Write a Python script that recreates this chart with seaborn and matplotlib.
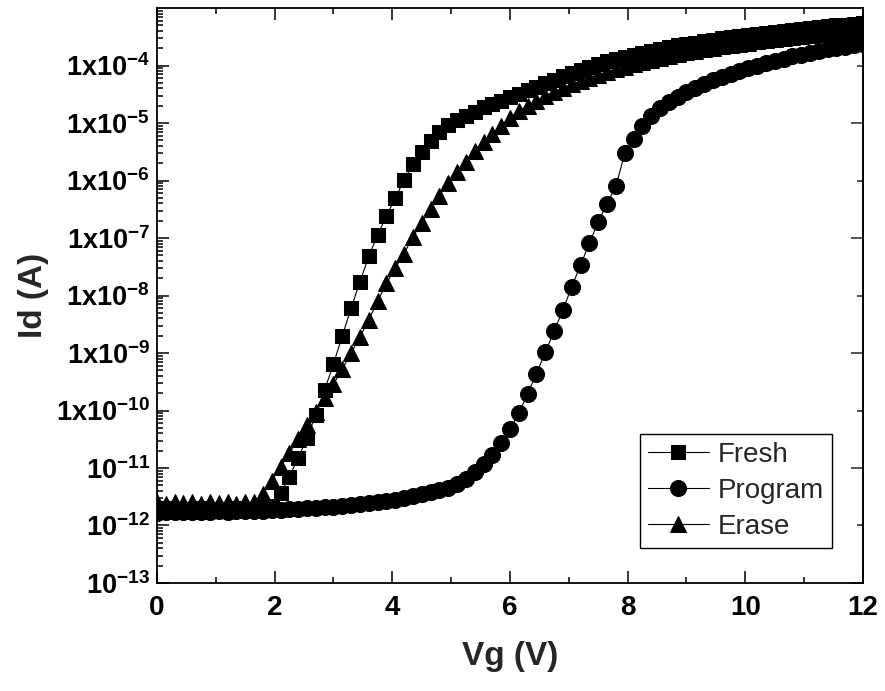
import numpy as np
import pandas as pd
import matplotlib
matplotlib.use("Agg")
import matplotlib.pyplot as plt
import seaborn as sns
from matplotlib.ticker import FixedLocator, LogLocator, MultipleLocator, NullFormatter

# Gate sweep (V), step 0.15 V
vg = [0.00, 0.15, 0.30, 0.45, 0.60, 0.75, 0.90, 1.05, 1.20, 1.35,
      1.50, 1.65, 1.80, 1.95, 2.10, 2.25, 2.40, 2.55, 2.70, 2.85,
      3.00, 3.15, 3.30, 3.45, 3.60, 3.75, 3.90, 4.05, 4.20, 4.35,
      4.50, 4.65, 4.80, 4.95, 5.10, 5.25, 5.40, 5.55, 5.70, 5.85,
      6.00, 6.15, 6.30, 6.45, 6.60, 6.75, 6.90, 7.05, 7.20, 7.35,
      7.50, 7.65, 7.80, 7.95, 8.10, 8.25, 8.40, 8.55, 8.70, 8.85,
      9.00, 9.15, 9.30, 9.45, 9.60, 9.75, 9.90, 10.05, 10.20, 10.35,
      10.50, 10.65, 10.80, 10.95, 11.10, 11.25, 11.40, 11.55, 11.70, 11.85,
      12.00]

# log10 of drain current (A)
fresh_log_id = [-11.72, -11.70, -11.73, -11.71, -11.72, -11.70, -11.73, -11.71, -11.72, -11.70,
                -11.72, -11.71, -11.70, -11.66, -11.44, -11.15, -10.83, -10.47, -10.08, -9.64,
                -9.19, -8.70, -8.22, -7.76, -7.32, -6.95, -6.61, -6.31, -5.99, -5.72,
                -5.50, -5.32, -5.16, -5.04, -4.95, -4.87, -4.80, -4.73, -4.67, -4.61,
                -4.55, -4.49, -4.43, -4.37, -4.31, -4.25, -4.19, -4.13, -4.08, -4.03,
                -3.98, -3.93, -3.89, -3.85, -3.81, -3.78, -3.74, -3.71, -3.68, -3.65,
                -3.62, -3.60, -3.57, -3.55, -3.53, -3.51, -3.49, -3.47, -3.45, -3.43,
                -3.41, -3.40, -3.38, -3.36, -3.35, -3.33, -3.32, -3.30, -3.29, -3.27,
                -3.26]

program_log_id = [-11.78, -11.76, -11.77, -11.76, -11.77, -11.76, -11.76, -11.75, -11.76, -11.75,
                  -11.75, -11.74, -11.74, -11.73, -11.73, -11.72, -11.71, -11.70, -11.69, -11.68,
                  -11.67, -11.66, -11.64, -11.63, -11.61, -11.59, -11.57, -11.55, -11.52, -11.49,
                  -11.46, -11.42, -11.38, -11.34, -11.28, -11.19, -11.07, -10.93, -10.77, -10.56,
                  -10.33, -10.05, -9.71, -9.36, -8.99, -8.62, -8.25, -7.85, -7.47, -7.09,
                  -6.72, -6.40, -6.10, -5.53, -5.27, -5.05, -4.87, -4.74, -4.63, -4.54,
                  -4.46, -4.39, -4.32, -4.26, -4.20, -4.15, -4.10, -4.05, -4.00, -3.96,
                  -3.92, -3.88, -3.84, -3.81, -3.78, -3.75, -3.72, -3.69, -3.67, -3.64,
                  -3.62]

erase_log_id = [-11.60, -11.62, -11.59, -11.61, -11.60, -11.62, -11.60, -11.61, -11.59, -11.62,
                -11.60, -11.60, -11.45, -11.22, -10.98, -10.74, -10.50, -10.26, -10.02, -9.78,
                -9.54, -9.28, -9.00, -8.72, -8.42, -8.10, -7.79, -7.52, -7.27, -6.98,
                -6.74, -6.49, -6.27, -6.04, -5.85, -5.68, -5.49, -5.33, -5.19, -5.05,
                -4.91, -4.79, -4.70, -4.61, -4.53, -4.46, -4.39, -4.33, -4.27, -4.21,
                -4.16, -4.11, -4.06, -4.02, -3.98, -3.94, -3.90, -3.87, -3.83, -3.80,
                -3.77, -3.74, -3.71, -3.69, -3.66, -3.64, -3.62, -3.60, -3.58, -3.56,
                -3.54, -3.52, -3.50, -3.49, -3.47, -3.46, -3.44, -3.43, -3.41, -3.40,
                -3.39]

series_names = ["Fresh", "Program", "Erase"]
series_logs = [fresh_log_id, program_log_id, erase_log_id]
series_markers = ["s", "o", "^"]
series_msize = [10.5, 11.5, 11.5]

y_exponents = list(range(-13, -3))

sns.set_theme(style="ticks")
plt.rcParams["font.family"] = ["Liberation Sans", "DejaVu Sans"]
plt.rcParams["mathtext.fontset"] = "custom"
plt.rcParams["mathtext.rm"] = "Liberation Sans:bold"
plt.rcParams["mathtext.bf"] = "Liberation Sans:bold"
plt.rcParams["mathtext.it"] = "Liberation Sans:bold"

fig = plt.figure(figsize=(8.85, 6.91), dpi=100)
ax = fig.add_axes([0.1774, 0.1563, 0.7977, 0.8321])

for name, logs, mk, ms in zip(series_names, series_logs, series_markers, series_msize):
    df = pd.DataFrame({"Vg": vg, "Id": np.power(10.0, logs)})
    sns.lineplot(data=df, x="Vg", y="Id", ax=ax, color="black", linewidth=0.8,
                 marker=mk, markersize=ms, markeredgecolor="black",
                 estimator=None, sort=False, label=name)

ax.set_yscale("log")
ax.set_xlim(0, 12)
ax.set_ylim(1e-13, 1e-3)

ax.set_xticks([0, 2, 4, 6, 8, 10, 12])
ax.xaxis.set_minor_locator(MultipleLocator(1))
ax.set_xticklabels(["0", "2", "4", "6", "8", "10", "12"], fontsize=20, fontweight="bold")

ax.yaxis.set_major_locator(FixedLocator([10.0 ** e for e in y_exponents]))
ax.yaxis.set_minor_locator(LogLocator(base=10, subs=np.arange(2, 10), numticks=30))
ax.yaxis.set_minor_formatter(NullFormatter())
ylabels = []
for e in y_exponents:
    if e <= -11:
        ylabels.append(r"$\mathrm{10}^{%d}$" % e)
    else:
        ylabels.append(r"$\mathrm{1x10}^{%d}$" % e)
ax.set_yticklabels(ylabels, fontsize=19.5)

ax.tick_params(which="both", direction="in", top=True, right=False, width=1.1, colors="black")
ax.tick_params(which="major", length=8.5)
ax.tick_params(which="minor", length=4.5)
ax.tick_params(axis="x", which="major", pad=9)
ax.tick_params(axis="y", which="major", pad=5)

# right-hand ticks: one per decade, long/short alternating
sec = ax.secondary_yaxis("right")
sec.yaxis.set_major_locator(FixedLocator([10.0 ** e for e in y_exponents if e % 2 != 0]))
sec.yaxis.set_minor_locator(FixedLocator([10.0 ** e for e in y_exponents if e % 2 == 0]))
sec.yaxis.set_major_formatter(NullFormatter())
sec.yaxis.set_minor_formatter(NullFormatter())
sec.tick_params(which="both", direction="in", width=1.1)
sec.tick_params(which="major", length=8.5)
sec.tick_params(which="minor", length=4.5)
sec.spines["right"].set_linewidth(1.3)

for sp in ax.spines.values():
    sp.set_linewidth(1.3)
    sp.set_color("black")

ax.set_xlabel("Vg (V)", fontsize=24, fontweight="bold", labelpad=14)
ax.set_ylabel("Id (A)", fontsize=24, fontweight="bold", labelpad=5)

leg = ax.legend(loc="lower right", bbox_to_anchor=(0.956, 0.061), frameon=True,
                fancybox=False, edgecolor="black", framealpha=1, fontsize=20,
                handlelength=2.2, labelspacing=0.35, borderpad=0.3,
                handletextpad=0.3, borderaxespad=0)
leg.get_frame().set_linewidth(1.0)

fig.savefig("out.png", dpi=100)
